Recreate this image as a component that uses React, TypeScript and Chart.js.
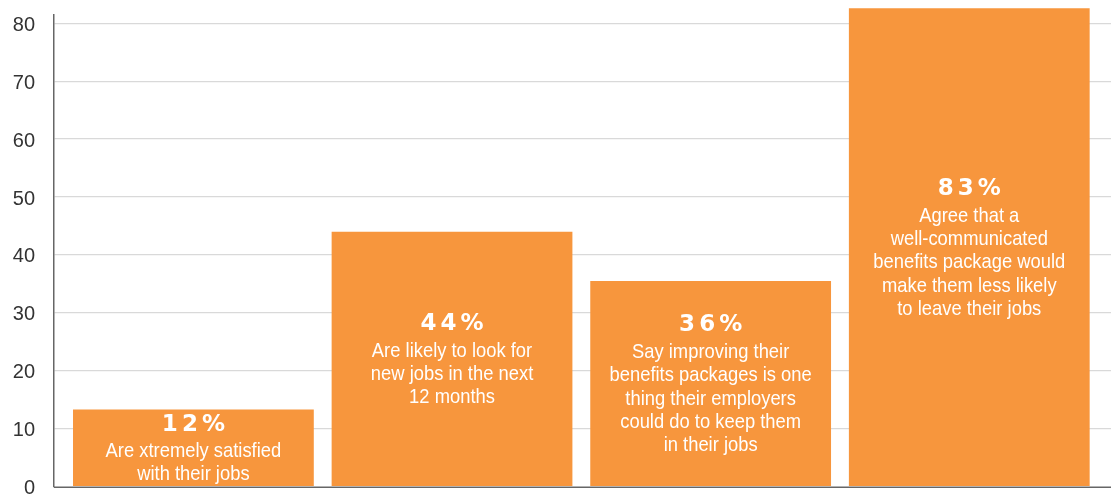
import React, { useEffect, useRef } from "react";
import { Chart, registerables } from "chart.js";

Chart.register(...registerables);

const categories = ["Extremely satisfied", "Likely to look", "Improving benefits", "Well-communicated"];
const barValues = [13.3, 44, 35.5, 82.6];
const percentLabels = ["12%", "44%", "36%", "83%"];
const descriptionLines = [
  ["Are xtremely satisfied", "with their jobs"],
  ["Are likely to look for", "new jobs in the next", "12 months"],
  ["Say improving their", "benefits packages is one", "thing their employers", "could do to keep them", "in their jobs"],
  ["Agree that a", "well-communicated", "benefits package would", "make them less likely", "to leave their jobs"],
];
const tickValues = [0, 10, 20, 30, 40, 50, 60, 70, 80];

const BAR_COLOR = "#F7963D";

const barTextPlugin = {
  id: "barText",
  afterDatasetsDraw(chart: any) {
    const { ctx } = chart;
    const meta = chart.getDatasetMeta(0);
    const yScale = chart.scales.y;
    const y0 = yScale.getPixelForValue(0);
    ctx.save();
    ctx.strokeStyle = "#666666";
    ctx.lineWidth = 1.5;
    ctx.beginPath();
    ctx.moveTo(chart.chartArea.left, y0 + 0.75);
    ctx.lineTo(chart.chartArea.right, y0 + 0.75);
    ctx.stroke();

    const pctGap = 26.7;
    const lineH = 23.3;
    const sx = 0.875;
    meta.data.forEach((bar: any, i: number) => {
      const lines = descriptionLines[i];
      const blockH = pctGap + lineH * (lines.length - 1);
      const mid = (bar.y + bar.base) / 2 + 2;
      const start = mid - blockH / 2;
      ctx.fillStyle = "#ffffff";
      ctx.textAlign = "center";
      ctx.textBaseline = "middle";
      ctx.font = 'bold 23px "DejaVu Sans"';
      (ctx as any).letterSpacing = "4px";
      ctx.fillText(percentLabels[i], bar.x + 2, start);
      (ctx as any).letterSpacing = "0px";
      ctx.font = '21px "Liberation Sans", Arial, sans-serif';
      lines.forEach((ln, j) => {
        ctx.save();
        ctx.translate(bar.x, start + pctGap + lineH * j);
        ctx.scale(sx, 1);
        ctx.fillText(ln, 0, 0);
        ctx.restore();
      });
    });
    ctx.restore();
  },
};

export default function App() {
  const canvasRef = useRef<HTMLCanvasElement | null>(null);

  useEffect(() => {
    document.body.style.margin = "0";
    const canvas = canvasRef.current;
    if (!canvas) return;
    const chart = new Chart(canvas, {
      type: "bar",
      data: {
        labels: categories,
        datasets: [
          {
            data: barValues.map((v, i) => ({ x: i, y: v })),
            backgroundColor: BAR_COLOR,
            borderWidth: 0,
            barPercentage: 0.931,
            categoryPercentage: 1,
            clip: false as any,
          },
        ],
      },
      options: {
        animation: false,
        responsive: false,
        devicePixelRatio: 1,
        layout: { padding: { top: 15, bottom: 9.5, left: 0, right: 0 } },
        plugins: {
          legend: { display: false },
          tooltip: { enabled: false },
          title: { display: false },
        },
        scales: {
          x: {
            type: "linear",
            display: false,
            offset: false,
            grid: { offset: false },
            min: -0.539,
            max: 3.548,
            afterBuildTicks(scale: any) {
              scale.ticks = categories.map((_, i) => ({ value: i }));
            },
          },
          y: {
            min: 0,
            max: 81.43,
            afterBuildTicks(scale: any) {
              scale.ticks = tickValues.map((v) => ({ value: v }));
            },
            afterFit(scale: any) {
              scale.width = 54;
              scale.paddingTop = 0;
              scale.paddingBottom = 0;
            },
            grid: {
              drawTicks: false,
              color: (c: any) => (c.tick && c.tick.value === 0 ? "rgba(0,0,0,0)" : "#d9d9d9"),
              lineWidth: 1.2,
            },
            border: { display: true, color: "#666666", width: 1.5 },
            ticks: {
              padding: 19,
              labelOffset: 2,
              color: "#333333",
              font: { family: '"Liberation Sans", Arial, sans-serif', size: 20 },
              callback: (v: any) => String(v),
            },
          },
        },
      },
      plugins: [barTextPlugin],
    });
    return () => chart.destroy();
  }, []);

  return (
    <div style={{ width: 1111, height: 496, background: "#ffffff" }}>
      <canvas ref={canvasRef} width={1111} height={496} />
    </div>
  );
}
